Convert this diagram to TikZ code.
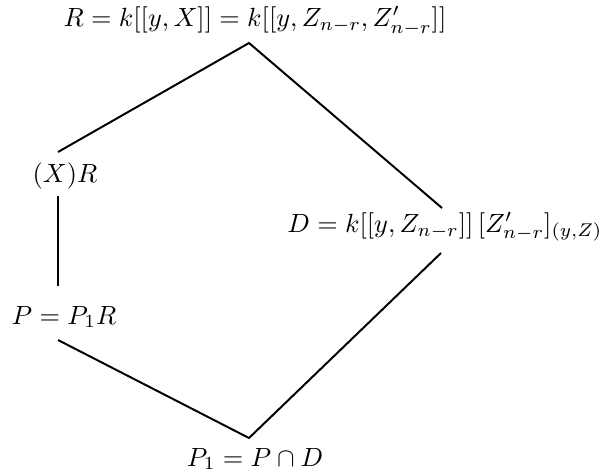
\documentclass[tikz,border=0pt]{standalone}
\usepackage{amsmath}
\usepackage{amssymb}
\begin{document}
\begin{tikzpicture}[x=0.380pt, y=-0.380pt, every node/.style={inner sep=0pt}, link/.style={line width=0.75pt}]
  \useasboundingbox (0,0) rectangle (605,474);
  % Rings
  \node (R) at (255,21) {$R = k[[y,X]] = k[[y,Z_{n-r},Z'_{n-r}]]$};
  \node (XR) at (65,176) {$(X)R$};
  \node (P) at (64,317) {$P = P_1R$};
  \node (D) at (445,227) {$D = k[[y,Z_{n-r}]]\,[Z'_{n-r}]_{(y,Z)}$};
  \node (P1) at (255,459) {$P_1 = P \cap D$};

  % Line ends
  \coordinate (top) at (249,43);
  \coordinate (bot) at (249,438);
  \coordinate (XRn) at (58,152);
  \coordinate (XRs) at (58,196);
  \coordinate (Pn) at (58,286);
  \coordinate (Ps) at (58,340);
  \coordinate (Dn) at (442,208);
  \coordinate (Ds) at (441,253);

  % Inclusions
  \draw[link] (XRn) -- (top) -- (Dn);
  \draw[link] (XRs) -- (Pn);
  \draw[link] (Ps) -- (bot) -- (Ds);
\end{tikzpicture}
\end{document}
